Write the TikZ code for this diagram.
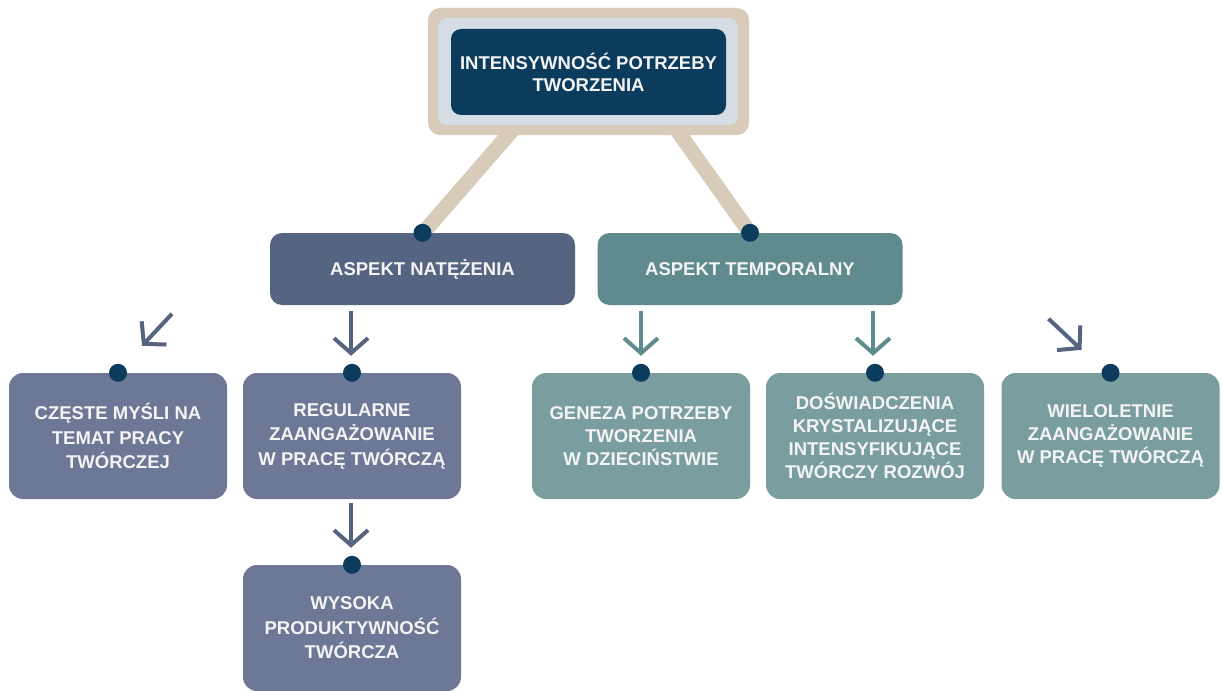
\documentclass[tikz,border=0pt]{standalone}
\usepackage{fontspec}
\setmainfont{Liberation Sans}
\usetikzlibrary{arrows.meta,calc}

\definecolor{navy}{HTML}{0B3C5D}
\definecolor{beige}{HTML}{D8CBBA}
\definecolor{frameg}{HTML}{D6DCE3}
\definecolor{slateA}{HTML}{546481}
\definecolor{tealA}{HTML}{5F8B8E}
\definecolor{slateB}{HTML}{6D7897}
\definecolor{tealB}{HTML}{7A9EA0}
\definecolor{arrslate}{HTML}{56647F}
\definecolor{arrteal}{HTML}{5F8C8E}
\definecolor{txt}{HTML}{F4F4F4}

\tikzset{
  boxbase/.style={rounded corners=14pt, inner sep=0pt, align=center, text=txt,
                  font=\fontsize{18.5}{24.5}\selectfont\bfseries},
  aspslate/.style={boxbase, fill=slateA, rounded corners=12pt,
                   minimum width=305pt, minimum height=72pt},
  aspteal/.style={boxbase, fill=tealA, rounded corners=12pt,
                  minimum width=305pt, minimum height=72pt},
  lowslate/.style={boxbase, fill=slateB, minimum width=218pt, minimum height=126pt},
  lowteal/.style={boxbase, fill=tealB, minimum width=218pt, minimum height=126pt,
                  font=\fontsize{18.5}{23}\selectfont\bfseries},
  dotnode/.style={circle, fill=navy, minimum size=18pt, inner sep=0pt},
  leg/.style={draw=beige, line width=15pt},
  arrow/.style={line width=4pt, -{Straight Barb[length=15pt,width=34pt,line width=4pt]}},
}

\begin{document}
\begin{tikzpicture}[x=1pt,y=-1pt]
\useasboundingbox (0,0) rectangle (1222,690);
\fill[white] (0,0) rectangle (1222,690);

% legs of the header sign
\coordinate (legL) at (516,126);
\coordinate (legR) at (674,126);
\coordinate (dA1pos) at (423,233);
\coordinate (dA2pos) at (750,233);
\draw[leg] (legL) -- (dA1pos);
\draw[leg] (legR) -- (dA2pos);

% header sign
\node[fill=beige, rounded corners=12pt, minimum width=321pt, minimum height=127pt, inner sep=0pt]
  (frame) at (588.5,71.5) {};
\node[fill=frameg, rounded corners=9pt, minimum width=300pt, minimum height=107pt, inner sep=0pt]
  (inner) at (588,71.5) {};
\node[fill=navy, rounded corners=10pt, minimum width=275pt, minimum height=86pt, inner sep=0pt,
      align=center, text=txt, font=\fontsize{18.5}{22}\selectfont\bfseries]
  (top) at (588.5,72) {INTENSYWNOŚĆ POTRZEBY\\TWORZENIA};

% aspects
\node[aspslate] (a1) at (422.5,269) {ASPEKT NATĘŻENIA};
\node[aspteal]  (a2) at (750,269) {ASPEKT TEMPORALNY};

% lower row
\node[lowslate] (b1) at (118,436) {CZĘSTE MYŚLI NA\\TEMAT PRACY\\TWÓRCZEJ};
\node[lowslate] (b2) at (352,436) {REGULARNE\\ZAANGAŻOWANIE\\W PRACĘ TWÓRCZĄ};
\node[lowteal]  (b3) at (641,436) {GENEZA POTRZEBY\\TWORZENIA\\W DZIECIŃSTWIE};
\node[lowteal]  (b4) at (875,436) {DOŚWIADCZENIA\\KRYSTALIZUJĄCE\\INTENSYFIKUJĄCE\\TWÓRCZY ROZWÓJ};
\node[lowteal]  (b5) at (1110.5,436) {WIELOLETNIE\\ZAANGAŻOWANIE\\W PRACĘ TWÓRCZĄ};
\node[lowslate] (b6) at (352,628) {WYSOKA\\PRODUKTYWNOŚĆ\\TWÓRCZA};

% dots
\node[dotnode] (da1) at (a1.north) {};
\node[dotnode] (da2) at (a2.north) {};
\node[dotnode] (d1) at (b1.north) {};
\node[dotnode] (d2) at (b2.north) {};
\node[dotnode] (d3) at (b3.north) {};
\node[dotnode] (d4) at (b4.north) {};
\node[dotnode] (d5) at (b5.north) {};
\node[dotnode] (d6) at (b6.north) {};

% arrows
\draw[arrow, arrslate] ($(d1)+(54,-59)$) -- ($(d1)+(24,-27)$);
\draw[arrow, arrslate] ($(d2)+(-1,-62)$) -- ($(d2)+(-1,-17)$);
\draw[arrow, arrteal]  ($(d3)+(0,-62)$) -- ($(d3)+(0,-17)$);
\draw[arrow, arrteal]  ($(d4)+(-2,-62)$) -- ($(d4)+(-2,-17)$);
\draw[arrow, arrslate] ($(d5)+(-62,-54)$) -- ($(d5)+(-29,-23)$);
\draw[arrow, arrslate] ($(d6)+(-1,-62)$) -- ($(d6)+(-1,-17)$);
\end{tikzpicture}
\end{document}
